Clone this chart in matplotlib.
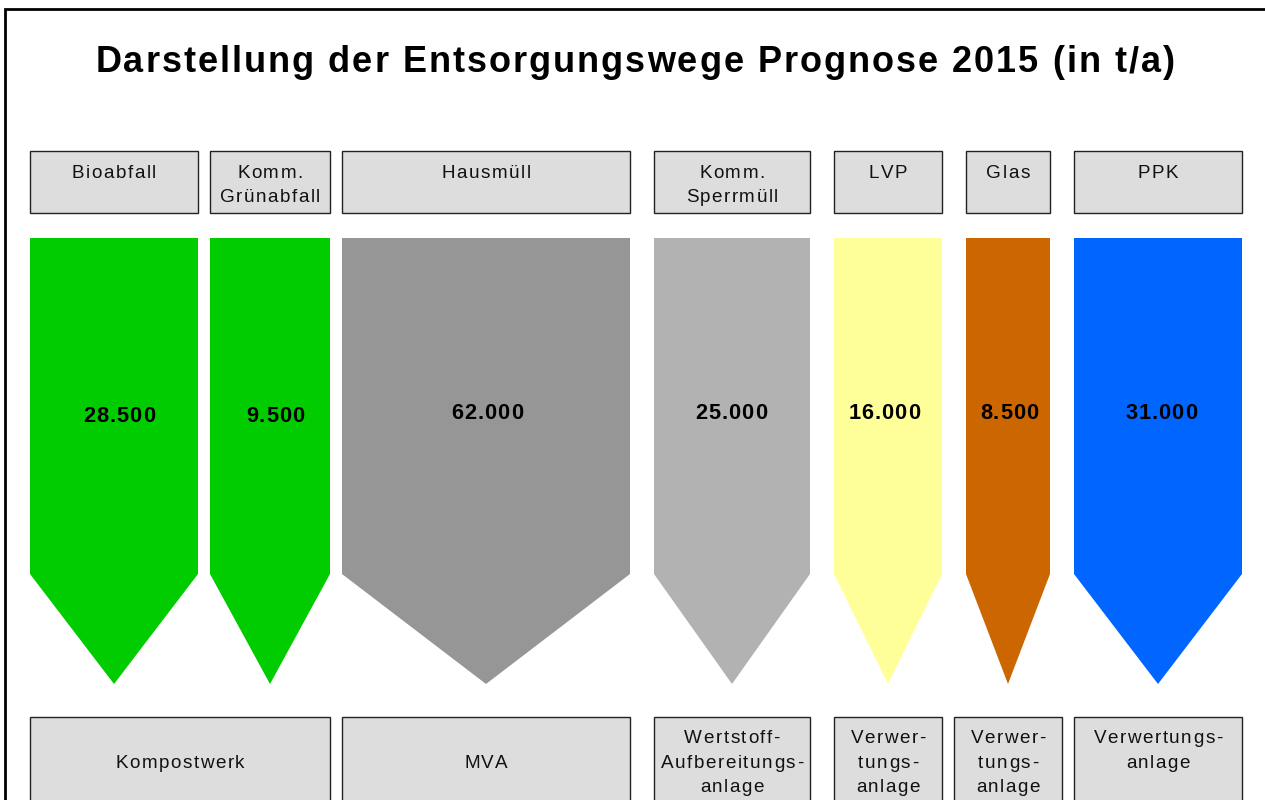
import matplotlib
matplotlib.use("Agg")
import matplotlib.pyplot as plt
from matplotlib.patches import Polygon, Rectangle
from matplotlib.font_manager import FontProperties, findfont
from matplotlib.ft2font import FT2Font

# ---- data ----
categories = ["Bioabfall", "Komm.\nGrünabfall", "Hausmüll", "Komm.\nSperrmüll", "LVP", "Glas", "PPK"]
values = [28500, 9500, 62000, 25000, 16000, 8500, 31000]
colors = ["#00CC00", "#00CC00", "#969696", "#B2B2B2", "#FFFF99", "#CC6600", "#0066FF"]
destinations = ["Kompostwerk", "MVA", "Wertstoff-\nAufbereitungs-\nanlage",
                "Verwer-\ntungs-\nanlage", "Verwer-\ntungs-\nanlage", "Verwertungs-\nanlage"]
title = "Darstellung der Entsorgungswege Prognose 2015 (in t/a)"

# ---- layout (pixel coordinates) ----
col_x = [(30, 198), (210, 330), (342, 630), (654, 810), (834, 942), (966, 1050), (1074, 1242)]
label_x = [119, 275, 487, 731, 884, 1009, 1161]
label_base = [422, 422, 419, 419, 419, 419, 419]
dest_x = [(30, 330), (342, 630), (654, 810), (834, 942), (954, 1062), (1074, 1242)]
dest_first_base = [768, 768, 743, 743, 743, 743]

TOP_Y0, TOP_Y1 = 151, 213
ARR_Y0, SHOULDER, TIP = 238, 574, 684
BOT_Y0, BOT_Y1 = 717, 812
LINE = 24.5
DPI = 100

fig = plt.figure(figsize=(12.65, 8.0), dpi=DPI)
ax = fig.add_axes([0, 0, 1, 1])
ax.set_xlim(0, 1265)
ax.set_ylim(800, 0)
ax.axis("off")

font = "Liberation Sans"
_ft_cache = {}

def advances(s, size, weight):
    key = (size, weight)
    if key not in _ft_cache:
        path = findfont(FontProperties(family=font, weight=weight))
        f = FT2Font(path)
        f.set_size(size, DPI)
        _ft_cache[key] = f
    f = _ft_cache[key]
    return [f.load_char(ord(ch)).linearHoriAdvance / 65536.0 for ch in s]

def fmt(v):
    return f"{v:,}".replace(",", ".")

def tracked(xc, yb, s, size, track, weight="normal", color="#111111"):
    prop = FontProperties(family=font, size=size, weight=weight)
    adv = advances(s, size, weight)
    total = sum(adv) + (len(s) - 1) * track
    x = xc - total / 2
    for ch, a in zip(s, adv):
        if ch != " ":
            ax.text(x, yb, ch, ha="left", va="baseline", fontproperties=prop, color=color)
        x += a + track

def lines_text(xc, y_first, text, size=13.6, track=1.5):
    for i, ln in enumerate(text.split("\n")):
        tracked(xc, y_first + i * LINE, ln, size, track)

# frame
ax.plot([5, 5, 1300], [830, 9, 9], color="black", lw=2, solid_joinstyle="miter", clip_on=False)

# title
tracked(635, 72.5, title, 26, 2.0, weight="bold", color="black")

for (x0, x1), cat, v, c, lx, lb in zip(col_x, categories, values, colors, label_x, label_base):
    ax.add_patch(Rectangle((x0, TOP_Y0), x1 - x0, TOP_Y1 - TOP_Y0, facecolor="#DDDDDD",
                           edgecolor="#222222", lw=1))
    lines_text((x0 + x1) / 2, 177.5, cat)
    xc = (x0 + x1) / 2
    ax.add_patch(Polygon([(x0, ARR_Y0), (x1, ARR_Y0), (x1, SHOULDER), (xc, TIP), (x0, SHOULDER)],
                         closed=True, facecolor=c, edgecolor="none"))
    tracked(lx, lb, fmt(v), 15.7, 1.0, weight="bold", color="black")

for (x0, x1), d, fb in zip(dest_x, destinations, dest_first_base):
    ax.add_patch(Rectangle((x0, BOT_Y0), x1 - x0, BOT_Y1 - BOT_Y0, facecolor="#DDDDDD",
                           edgecolor="#222222", lw=1, clip_on=False))
    lines_text((x0 + x1) / 2, fb, d)

fig.savefig("out.png", dpi=DPI)
